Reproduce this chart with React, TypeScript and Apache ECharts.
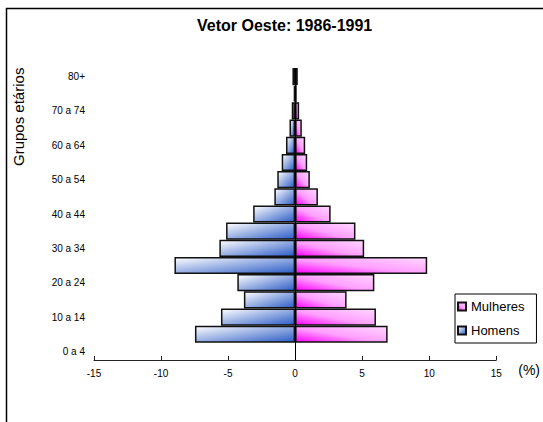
import React, { useEffect, useRef } from "react";
import * as echarts from "echarts";

const ageGroups = [
  "0 a 4", "5 a 9", "10 a 14", "15 a 19", "20 a 24", "25 a 29", "30 a 34", "35 a 39",
  "40 a 44", "45 a 49", "50 a 54", "55 a 59", "60 a 64", "65 a 69", "70 a 74", "75 a 79", "80+",
];
// Percent values (first slot drawn empty in the original)
const homens = [null, 7.47, 5.53, 3.82, 4.31, 9.0, 5.65, 5.15, 3.13, 1.55, 1.33, 1.0, 0.68, 0.42, 0.25, 0.1, 0.2];
const mulheres = [null, 6.9, 6.03, 3.84, 5.91, 9.85, 5.15, 4.5, 2.65, 1.7, 1.1, 0.9, 0.75, 0.5, 0.3, 0.12, 0.2];
const xTicks = { min: -15, max: 15, interval: 5 };

const FONT = "Liberation Sans, Arial, sans-serif";

export default function App() {
  const ref = useRef<HTMLDivElement>(null);
  useEffect(() => {
    if (!ref.current) return;
    const chart = echarts.init(ref.current, null, { renderer: "svg" });
    const menFill = new echarts.graphic.LinearGradient(0, 0, 1, 1, [
      { offset: 0, color: "#ffffff" },
      { offset: 1, color: "#2c5cc6" },
    ]);
    const womenFill = new echarts.graphic.LinearGradient(0, 1, 1, 0, [
      { offset: 0, color: "#ff00ff" },
      { offset: 0.45, color: "#ff9eff" },
      { offset: 1, color: "#ffd8ff" },
    ]);
    chart.setOption({
      animation: false,
      backgroundColor: "#ffffff",
      title: {
        text: "Vetor Oeste: 1986-1991",
        left: 192,
        top: 12,
        textStyle: { fontFamily: FONT, fontSize: 16, fontWeight: "bold", color: "#000" },
      },
      legend: {
        data: ["Mulheres", "Homens"],
        orient: "vertical",
        left: 455,
        top: 294,
        icon: "rect",
        itemWidth: 8,
        itemHeight: 8,
        itemGap: 11,
        padding: [6, 12, 6, 2],
        borderColor: "#000",
        borderWidth: 1,
        textStyle: { fontFamily: FONT, fontSize: 13, color: "#000" },
      },
      grid: { left: 94, right: 37, top: 68, bottom: 62, containLabel: false },
      xAxis: {
        type: "value",
        min: xTicks.min,
        max: xTicks.max,
        interval: xTicks.interval,
        name: "(%)",
        nameLocation: "end",
        nameGap: 22,
        nameTextStyle: { fontFamily: FONT, fontSize: 14, color: "#000", verticalAlign: "top", padding: [3, 0, 0, 0] },
        axisLine: { show: true, onZero: false, lineStyle: { color: "#222", width: 1 } },
        axisTick: { show: true, inside: true, length: 4, lineStyle: { color: "#222" } },
        axisLabel: { fontFamily: FONT, fontSize: 10, color: "#000", margin: 8 },
        splitLine: { show: false },
      },
      yAxis: {
        type: "category",
        data: ageGroups,
        axisLine: { show: false },
        axisTick: { show: false },
        axisLabel: { interval: 1, fontFamily: FONT, fontSize: 10, color: "#000", margin: 9 },
        splitLine: { show: false },
      },
      series: [
        {
          name: "Homens",
          type: "bar",
          stack: "pyr",
          barCategoryGap: "0%",
          data: homens.map((v) => (v == null ? "-" : -v)),
          itemStyle: { color: menFill, borderColor: "#111", borderWidth: 1.5 },
          markLine: {
            silent: true,
            symbol: "none",
            label: { show: false },
            lineStyle: { color: "#000", width: 1, type: "solid" },
            data: [{ xAxis: 0 }],
          },
        },
        {
          name: "Mulheres",
          type: "bar",
          stack: "pyr",
          barCategoryGap: "0%",
          data: mulheres.map((v) => (v == null ? "-" : v)),
          itemStyle: { color: womenFill, borderColor: "#111", borderWidth: 1.5 },
        },
      ],
      graphic: [
        {
          type: "rect",
          shape: { x: 6.5, y: 8.5, width: 700, height: 600 },
          style: { fill: "none", stroke: "#000", lineWidth: 1.5 },
          silent: true,
        },
        {
          type: "text",
          x: 11,
          y: 166,
          rotation: Math.PI / 2,
          style: { text: "Grupos etários", fontFamily: FONT, fontSize: 15, fill: "#000" },
          silent: true,
        },
      ],
    });
    return () => chart.dispose();
  }, []);
  return (
    <div
      ref={ref}
      style={{ position: "fixed", left: 0, top: 0, width: 543, height: 422, background: "#fff" }}
    />
  );
}
